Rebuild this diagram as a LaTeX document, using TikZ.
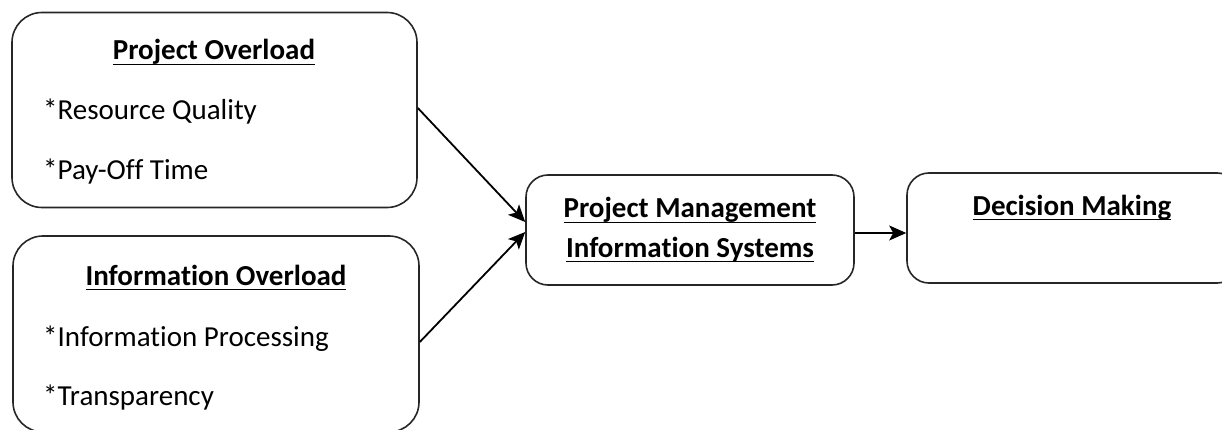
\documentclass[tikz,border=0pt]{standalone}
\usepackage{fontspec}
\setmainfont{Carlito}[Ligatures=NoCommon]
\usetikzlibrary{arrows.meta}
\newcommand\myul[1]{\setbox0\hbox{#1}\rlap{\rule[-5pt]{\wd0}{1.4pt}}\box0}
\tikzset{
  box/.style={draw=black!85, line width=1.6pt, rounded corners=30pt, inner sep=0pt},
  sbox/.style={draw=black!85, line width=1.6pt, rounded corners=22pt, inner sep=0pt},
  txt/.style={inner sep=0pt, anchor=base, font=\fontsize{29}{34}\selectfont},
  itm/.style={inner sep=0pt, anchor=base west, font=\fontsize{29}{34}\selectfont},
  arr/.style={line width=1.8pt, -{Stealth[length=17pt,width=15pt,inset=4pt]}}
}
\begin{document}
\begin{tikzpicture}[x=1pt,y=-1pt]
\useasboundingbox (0,0) rectangle (1222,430);
\clip (0,0) rectangle (1222,430);
\node[box, minimum width=405pt, minimum height=195pt] (b1) at (214.5,110) {};
\node[box, minimum width=406pt, minimum height=196pt] (b2) at (216,334) {};
\node[sbox, minimum width=328pt, minimum height=110pt] (b3) at (690,230) {};
\node[sbox, minimum width=332pt, minimum height=110pt] (b4) at (1073,228) {};
\node[txt] (t1) at (214,60) {\myul{\bfseries Project Overload}};
\node[itm] (i1) at (43,120) {*Resource Quality};
\node[itm] (i2) at (43,180) {*Pay-Off Time};
\node[txt] (t2) at (216,285) {\myul{\bfseries Information Overload}};
\node[itm] (i3) at (43,346) {*Information Processing};
\node[itm] (i4) at (43,405) {*Transparency};
\node[txt] (t3) at (690,218) {\myul{\bfseries Project Management}};
\node[txt] (t4) at (690,257) {\myul{\bfseries Information Systems}};
\node[txt] (t5) at (1072,215) {\myul{\bfseries Decision Making}};
\coordinate (a1) at ([yshift=2pt]b1.east);
\coordinate (a2) at ([yshift=-8pt]b2.east);
\draw[arr] (a1) -- ([yshift=8pt]b3.west);
\draw[arr] (a2) -- ([yshift=-2pt]b3.west);
\draw[arr] ([yshift=-3pt]b3.east) -- ([yshift=-5pt]b4.west);
\end{tikzpicture}
\end{document}
